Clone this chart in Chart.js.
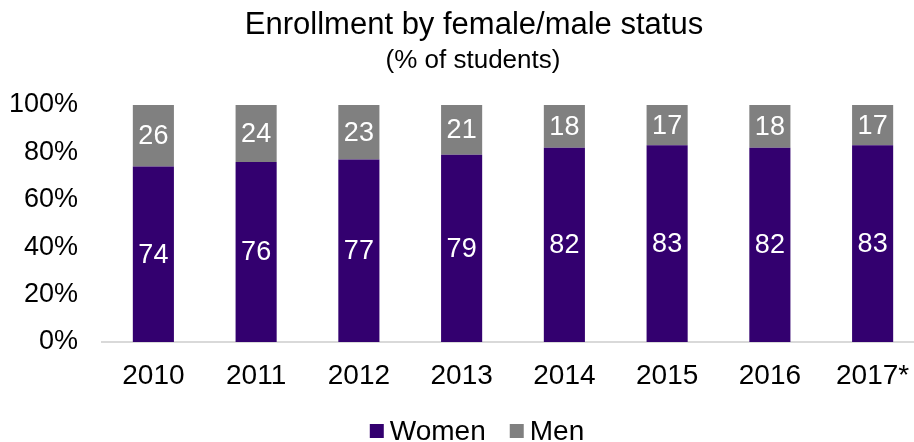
<!DOCTYPE html>
<html>
<head>
<meta charset="utf-8">
<script src="https://cdn.jsdelivr.net/npm/chart.js@4"></script>
<style>
  html, body { margin: 0; padding: 0; background: #fff; overflow: hidden; }
  #wrap { width: 926px; height: 442px; }
</style>
</head>
<body>
<div id="wrap"><canvas id="chart" width="926" height="442"></canvas></div>
<script>
// Données
const years = ['2010', '2011', '2012', '2013', '2014', '2015', '2016', '2017*'];
const women = [74, 76, 77, 79, 82, 83, 82, 83];
const men = [26, 24, 23, 21, 18, 17, 18, 17];
const yTicks = [0, 20, 40, 60, 80, 100];

const FONT = '"Liberation Sans", Arial, sans-serif';
const PURPLE = '#33006f';
const GREY = '#808080';

// Étiquettes blanches au centre des segments
const barLabels = {
    id: 'barLabels',
    afterDatasetsDraw(chart) {
        const ctx = chart.ctx;
        ctx.save();
        ctx.font = '27px ' + FONT;
        ctx.fillStyle = '#fff';
        ctx.textAlign = 'center';
        ctx.textBaseline = 'middle';
        chart.data.datasets.forEach((ds, i) => {
            chart.getDatasetMeta(i).data.forEach((bar, j) => {
                const mid = (bar.y + bar.base) / 2;
                ctx.fillText(ds.data[j], bar.x, mid + 1);
            });
        });
        ctx.restore();
    }
};

// Titre, sous-titre et légende dessinés à la main
const decor = {
    id: 'decor',
    afterDraw(chart) {
        const ctx = chart.ctx;
        ctx.save();
        ctx.fillStyle = '#000';
        ctx.textAlign = 'center';
        ctx.textBaseline = 'alphabetic';
        ctx.font = '31px ' + FONT;
        ctx.fillText('Enrollment by female/male status', 474, 34);
        ctx.font = '26px ' + FONT;
        ctx.fillText('(% of students)', 473, 68);

        // légende
        ctx.font = '28px ' + FONT;
        ctx.textAlign = 'left';
        const items = chart.data.datasets.map(ds => ({ text: ds.label, color: ds.backgroundColor }));
        const box = 14, gap = 6, spacing = 24;
        let total = 0;
        items.forEach((it, i) => {
            it.w = ctx.measureText(it.text).width;
            total += box + gap + it.w + (i ? spacing : 0);
        });
        let x = 477 - total / 2;
        items.forEach(it => {
            ctx.fillStyle = it.color;
            ctx.fillRect(x, 424, box, box);
            ctx.fillStyle = '#000';
            ctx.fillText(it.text, x + box + gap, 440);
            x += box + gap + it.w + spacing;
        });
        ctx.restore();
    }
};

new Chart(document.getElementById('chart'), {
    type: 'bar',
    data: {
        labels: years,
        datasets: [
            { label: 'Women', data: women, backgroundColor: PURPLE, barPercentage: 0.4, categoryPercentage: 1 },
            { label: 'Men', data: men, backgroundColor: GREY, barPercentage: 0.4, categoryPercentage: 1 }
        ]
    },
    options: {
        responsive: false,
        animation: false,
        layout: { padding: { left: 0, right: 2, top: 105, bottom: 40 } },
        plugins: {
            title: { display: false },
            legend: { display: false },
            tooltip: { enabled: false }
        },
        scales: {
            x: {
                stacked: true,
                grid: { display: false },
                border: { color: '#d9d9d9', width: 2 },
                ticks: { color: '#000', font: { family: FONT, size: 28 }, padding: 9 },
                afterFit: axis => { axis.height = 60; }
            },
            y: {
                stacked: true,
                min: 0,
                max: 100,
                grid: { display: false },
                border: { display: false },
                afterBuildTicks: axis => { axis.ticks = yTicks.map(v => ({ value: v })); },
                afterFit: axis => { axis.width = 102; },
                ticks: {
                    color: '#000',
                    font: { family: FONT, size: 27 },
                    padding: 16,
                    callback: v => v + '%'
                }
            }
        }
    },
    plugins: [barLabels, decor]
});
</script>
</body>
</html>
